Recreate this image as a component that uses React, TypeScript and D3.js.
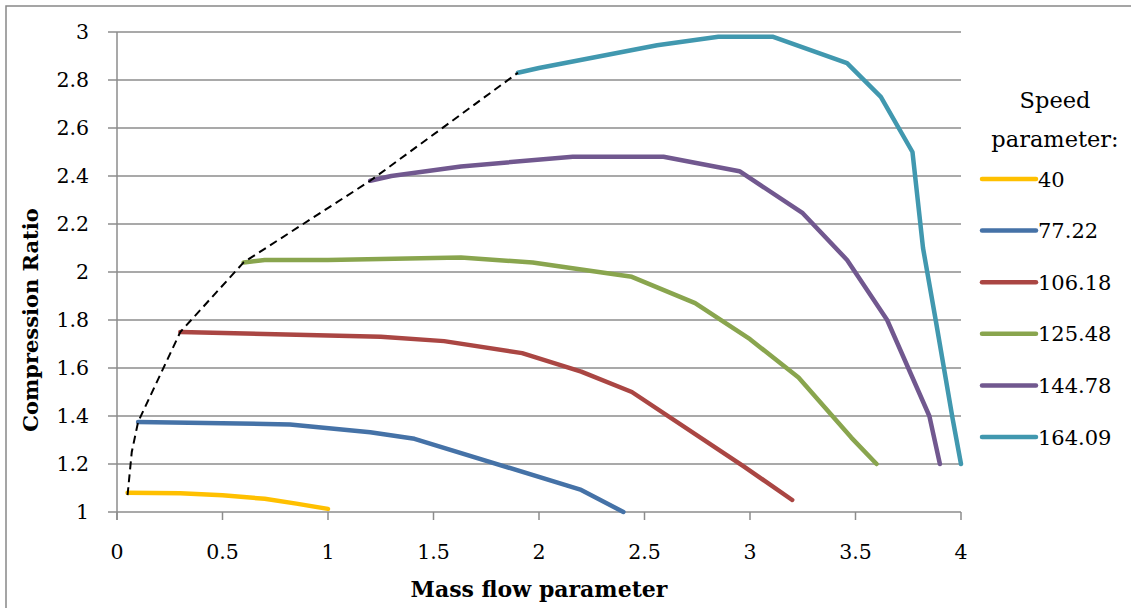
import * as d3 from 'd3';

// speed lines of the compressor map
const speeds = ['40', '77.22', '106.18', '125.48', '144.78', '164.09'];
const colors = ['#FFC000', '#4572A7', '#AA4643', '#89A54E', '#71588F', '#4198AF'];

const flow40 = [0.05, 0.3, 0.5, 0.7, 0.85, 1.0];
const ratio40 = [1.08, 1.078, 1.07, 1.055, 1.035, 1.013];

const flow77 = [0.1, 0.82, 1.2, 1.41, 2.2, 2.4];
const ratio77 = [1.375, 1.365, 1.332, 1.305, 1.092, 1.0];

const flow106 = [0.3, 0.8, 1.25, 1.55, 1.92, 2.2, 2.44, 2.97, 3.2];
const ratio106 = [1.75, 1.74, 1.73, 1.712, 1.662, 1.585, 1.5, 1.19, 1.05];

const flow125 = [0.6, 0.7, 1.0, 1.63, 1.97, 2.2, 2.44, 2.74, 3.0, 3.23, 3.48, 3.6];
const ratio125 = [2.04, 2.05, 2.05, 2.06, 2.04, 2.01, 1.98, 1.87, 1.72, 1.56, 1.31, 1.2];

const flow144 = [1.2, 1.3, 1.63, 2.16, 2.59, 2.95, 3.25, 3.46, 3.65, 3.85, 3.9];
const ratio144 = [2.38, 2.40, 2.44, 2.48, 2.48, 2.42, 2.245, 2.05, 1.8, 1.4, 1.2];

const flow164 = [1.9, 2.0, 2.56, 2.85, 3.11, 3.46, 3.62, 3.77, 3.82, 3.88, 3.96, 4.0];
const ratio164 = [2.83, 2.85, 2.945, 2.98, 2.98, 2.87, 2.73, 2.5, 2.1, 1.8, 1.39, 1.2];

// surge line through the left end of each speed line
const surgeFlow = [0.05, 0.07, 0.1, 0.3, 0.6, 1.2, 1.9];
const surgeRatio = [1.07, 1.25, 1.375, 1.75, 2.04, 2.38, 2.83];

const xTicks = [0, 0.5, 1, 1.5, 2, 2.5, 3, 3.5, 4];
const yTicks = [1, 1.2, 1.4, 1.6, 1.8, 2, 2.2, 2.4, 2.6, 2.8, 3];

const seriesFlow = [flow40, flow77, flow106, flow125, flow144, flow164];
const seriesRatio = [ratio40, ratio77, ratio106, ratio125, ratio144, ratio164];

const W = 1131;
const H = 608;
const margin = { top: 32, right: 170, bottom: 96, left: 117 };
const font = '"DejaVu Serif", serif';
const gridColor = '#8c8c8c';

export default function App() {
  const x = d3.scaleLinear().domain([0, 4]).range([margin.left, W - margin.right]);
  const y = d3.scaleLinear().domain([1, 3]).range([H - margin.bottom, margin.top]);

  const line = d3
    .line<[number, number]>()
    .x((d) => x(d[0]))
    .y((d) => y(d[1]));

  const x0 = x(0);
  const x1 = x(4);
  const yBase = y(1);

  const legendX = 982;
  const legendY0 = 179;
  const legendStep = 51.6;

  return (
    <svg
      width={W}
      height={H}
      style={{ position: 'absolute', left: 0, top: 0, display: 'block', background: '#fff' }}
    >
      <rect x={6} y={6} width={1130} height={610} fill="#fff" stroke="#888" strokeWidth={1.5} />

      {/* grid + y ticks */}
      {yTicks.map((t) => (
        <line key={t} x1={x0 - 9} x2={x1} y1={y(t)} y2={y(t)} stroke={gridColor} strokeWidth={1.5} />
      ))}
      <line x1={x0} x2={x0} y1={y(3)} y2={yBase + 8} stroke={gridColor} strokeWidth={1.5} />
      {xTicks.map((t) => (
        <line key={t} x1={x(t)} x2={x(t)} y1={yBase} y2={yBase + 8} stroke={gridColor} strokeWidth={1.5} />
      ))}

      {yTicks.map((t) => (
        <text
          key={t}
          x={89}
          y={y(t)}
          dy="0.36em"
          textAnchor="end"
          fontFamily={font}
          fontSize={20.5}
          fill="#000"
        >
          {d3.format('~g')(t)}
        </text>
      ))}
      {xTicks.map((t) => (
        <text key={t} x={x(t)} y={559} textAnchor="middle" fontFamily={font} fontSize={20.5} fill="#000">
          {d3.format('~g')(t)}
        </text>
      ))}

      {seriesFlow.map((fs, i) => (
        <path
          key={speeds[i]}
          d={line(fs.map((f, j) => [f, seriesRatio[i][j]] as [number, number])) || ''}
          fill="none"
          stroke={colors[i]}
          strokeWidth={4.5}
          strokeLinecap="round"
          strokeLinejoin="round"
        />
      ))}

      <path
        d={line(surgeFlow.map((f, j) => [f, surgeRatio[j]] as [number, number])) || ''}
        fill="none"
        stroke="#000"
        strokeWidth={2}
        strokeDasharray="8 5"
      />

      <text
        transform={`translate(38, 320) rotate(-90)`}
        textAnchor="middle"
        fontFamily={font}
        fontSize={21}
        fontWeight="bold"
        fill="#000"
      >
        Compression Ratio
      </text>
      <text x={(x0 + x1) / 2} y={597} textAnchor="middle" fontFamily={font} fontSize={22} fontWeight="bold" fill="#000">
        Mass flow parameter
      </text>

      {/* legend */}
      <text x={1055} y={108} textAnchor="middle" fontFamily={font} fontSize={22.5} fill="#000">
        Speed
      </text>
      <text x={1055} y={147} textAnchor="middle" fontFamily={font} fontSize={22.5} fill="#000">
        parameter:
      </text>
      {speeds.map((s, i) => {
        const ly = legendY0 + i * legendStep;
        return (
          <g key={s}>
            <line
              x1={legendX}
              x2={legendX + 54}
              y1={ly}
              y2={ly}
              stroke={colors[i]}
              strokeWidth={4.5}
              strokeLinecap="round"
            />
            <text x={legendX + 56} y={ly} dy="0.36em" fontFamily={font} fontSize={21} fill="#000">
              {s}
            </text>
          </g>
        );
      })}
    </svg>
  );
}
